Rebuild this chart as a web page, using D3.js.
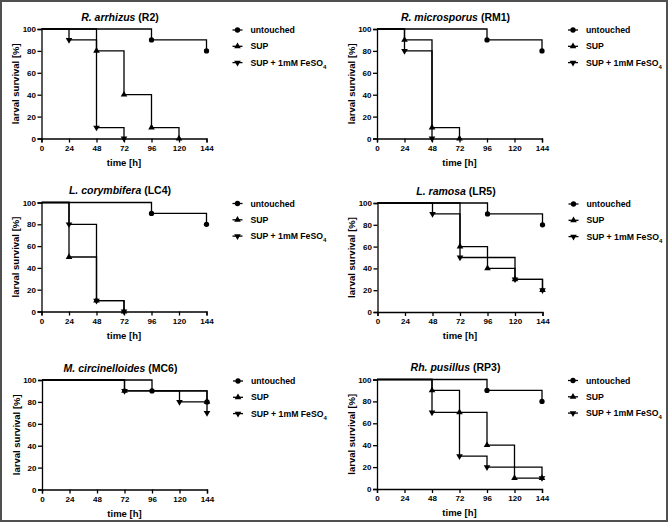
<!DOCTYPE html>
<html><head><meta charset="utf-8">
<script src="https://cdn.jsdelivr.net/npm/d3@7"></script>
<style>
body{margin:0;background:#fff;}
svg{display:block;font-family:"Liberation Sans",Arial,sans-serif;font-weight:bold;}
</style></head>
<body><svg id="c" width="669" height="523"></svg>
<script>
// ---- data ----
const seriesNames = ["untouched", "SUP", "SUP + 1mM FeSO4"];
const titlesItalic = ["R. arrhizus", "R. microsporus", "L. corymbifera", "L. ramosa", "M. circinelloides", "Rh. pusillus"];
const titlesCode = ["(R2)", "(RM1)", "(LC4)", "(LR5)", "(MC6)", "(RP3)"];
const xTicks = [0, 24, 48, 72, 96, 120, 144];
const yTicks = [0, 20, 40, 60, 80, 100];
// event points [time, survival %]; every curve starts at (0,100)
const R2_untouched = [[96, 90], [144, 80]];
const R2_SUP = [[48, 80], [72, 40], [96, 10], [120, 0]];
const R2_FE = [[24, 90], [48, 10], [72, 0]];
const RM1_untouched = [[96, 90], [144, 80]];
const RM1_SUP = [[24, 90], [48, 10], [72, 0]];
const RM1_FE = [[24, 80], [48, 0]];
const LC4_untouched = [[96, 90], [144, 80]];
const LC4_SUP = [[24, 50], [48, 10], [72, 0]];
const LC4_FE = [[24, 80], [48, 10], [72, 0]];
const LR5_untouched = [[96, 90], [144, 80]];
const LR5_SUP = [[72, 60], [96, 40], [120, 30], [144, 20]];
const LR5_FE = [[48, 90], [72, 50], [120, 30], [144, 20]];
const MC6_untouched = [[96, 90], [144, 80]];
const MC6_SUP = [[72, 90], [144, 80]];
const MC6_FE = [[72, 90], [120, 80], [144, 70]];
const RP3_untouched = [[96, 90], [144, 80]];
const RP3_SUP = [[48, 90], [72, 70], [96, 40], [120, 10], [144, 10]];
const RP3_FE = [[48, 70], [72, 30], [96, 20], [144, 10]];

const panelData = [
  [R2_untouched, R2_SUP, R2_FE],
  [RM1_untouched, RM1_SUP, RM1_FE],
  [LC4_untouched, LC4_SUP, LC4_FE],
  [LR5_untouched, LR5_SUP, LR5_FE],
  [MC6_untouched, MC6_SUP, MC6_FE],
  [RP3_untouched, RP3_SUP, RP3_FE]
];

// ---- layout ----
const boxes = [
  {x: 41.5, y: 29, w: 165, h: 109.5},
  {x: 377, y: 29, w: 165, h: 109.5},
  {x: 41.5, y: 202.5, w: 165, h: 109},
  {x: 377.5, y: 203, w: 165, h: 109},
  {x: 42, y: 380, w: 165, h: 109.5},
  {x: 377, y: 379.5, w: 165, h: 109.5}
];

const svg = d3.select("#c");
svg.append("rect").attr("x", 1).attr("y", 1).attr("width", 666).attr("height", 520)
  .attr("fill", "#fff").attr("stroke", "#505050").attr("stroke-width", 2);

const symbolTypes = [d3.symbolCircle, d3.symbolTriangle, d3.symbolTriangle];
const symbolSizes = [22, 19, 19];
function drawMarker(g, si, x, y) {
  const p = g.append("path")
    .attr("d", d3.symbol().type(symbolTypes[si]).size(symbolSizes[si])())
    .attr("fill", "#000");
  if (si === 2) p.attr("transform", `translate(${x},${y}) rotate(180)`);
  else p.attr("transform", `translate(${x},${y})`);
}

panelData.forEach((series, pi) => {
  const b = boxes[pi];
  const g = svg.append("g").attr("transform", `translate(${b.x},${b.y})`);
  const x = d3.scaleLinear().domain([0, 144]).range([0, b.w]);
  const y = d3.scaleLinear().domain([0, 100]).range([b.h, 0]);

  // axes
  const xa = g.append("g").attr("transform", `translate(0,${b.h})`)
    .call(d3.axisBottom(x).tickValues(xTicks).tickSize(4).tickPadding(2));
  const ya = g.append("g")
    .call(d3.axisLeft(y).tickValues(yTicks).tickSize(4).tickPadding(1.5));
  [xa, ya].forEach(a => {
    a.select(".domain").attr("stroke", "#000").attr("stroke-width", 1.3);
    a.selectAll(".tick line").attr("stroke", "#000").attr("stroke-width", 1.3);
    a.selectAll("text").attr("fill", "#000").style("font-size", "8px")
      .style("font-family", '"Liberation Sans",Arial,sans-serif').style("font-weight", "bold");
  });
  xa.selectAll("text").attr("dy", "0.8em");

  // lines (step-after)
  const line = d3.line().x(d => x(d[0])).y(d => y(d[1])).curve(d3.curveStepAfter);
  series.forEach((pts, si) => {
    const full = [[0, 100]].concat(pts);
    g.append("path").attr("d", line(full)).attr("fill", "none")
      .attr("stroke", "#000").attr("stroke-width", 1.3);
  });
  series.forEach((pts, si) => {
    pts.forEach(p => drawMarker(g, si, x(p[0]), y(p[1])));
  });

  // title
  const t = g.append("text").attr("x", b.w / 2 - 4).attr("y", -8.5)
    .attr("text-anchor", "middle").style("font-size", "10.5px").attr("fill", "#000");
  t.append("tspan").style("font-style", "italic").text(titlesItalic[pi]);
  t.append("tspan").text(" " + titlesCode[pi]);

  // axis titles
  g.append("text").attr("x", b.w / 2).attr("y", b.h + 27).attr("text-anchor", "middle")
    .style("font-size", "9.5px").attr("fill", "#000").text("time [h]");
  g.append("text").attr("transform", `translate(-22.5,${b.h / 2}) rotate(-90)`)
    .attr("text-anchor", "middle").style("font-size", "9.5px").attr("fill", "#000")
    .text("larval survival [%]");

  // legend
  const lg = g.append("g").attr("transform", `translate(${b.w + 26},0)`);
  seriesNames.forEach((name, si) => {
    const ly = 1 + si * 16.3;
    lg.append("line").attr("x1", 0).attr("x2", 10).attr("y1", ly).attr("y2", ly)
      .attr("stroke", "#000").attr("stroke-width", 1.3);
    drawMarker(lg, si, 5, ly);
    const tx = lg.append("text").attr("x", 18).attr("y", ly).attr("dy", "0.35em")
      .style("font-size", "8.7px").attr("fill", "#000");
    if (si === 2) {
      tx.append("tspan").text("SUP + 1mM FeSO");
      tx.append("tspan").attr("dy", "3").style("font-size", "6px").text("4");
    } else tx.text(name);
  });
});
</script></body></html>
